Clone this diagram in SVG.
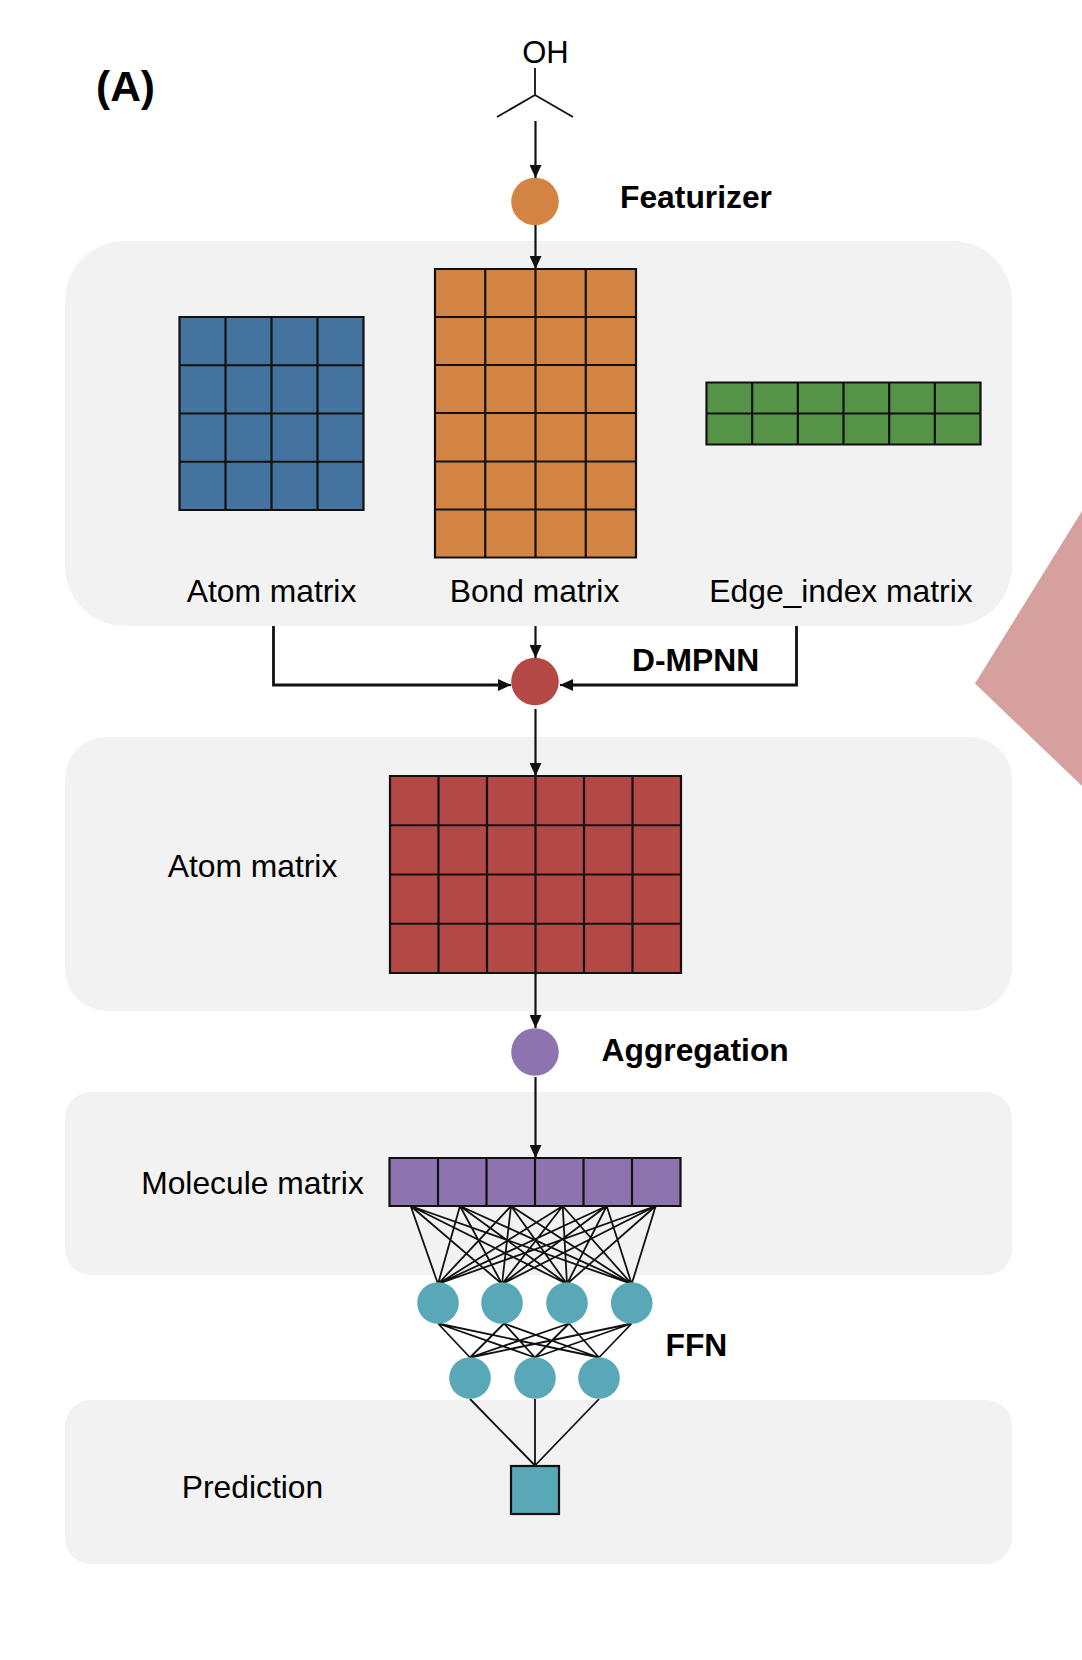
<svg xmlns="http://www.w3.org/2000/svg" width="1082" height="1660" viewBox="0 0 1082 1660">
<defs>
<style>
text{font-family:"Liberation Sans",Arial,sans-serif;font-size:31.8px;fill:#000}
.b{font-weight:bold}
.m{text-anchor:middle}
.panel{fill:#f2f2f2}
.grid{stroke:#111;stroke-width:2.2;fill:none}
.line{stroke:#111;stroke-width:2.2;fill:none}
.heavy{stroke:#111;stroke-width:2.8;fill:none}
.thin{stroke:#111;stroke-width:1.8;fill:none}
.teal{fill:#58a8b7}
</style>
<marker id="arrow" markerUnits="userSpaceOnUse" viewBox="0 0 13 12" refX="13" refY="6" markerWidth="13" markerHeight="12" orient="auto"><path d="M0,0L13,6L0,12Z" fill="#111"/></marker>
</defs>
<rect width="1082" height="1660" fill="#fff"/>
<polygon id="pink-shape" points="1082,511 975,683.5 1082,786" fill="#d5a09e"/>
<g id="panels">
<rect class="panel" x="65" y="241" width="947" height="385" rx="60" ry="60"/>
<rect class="panel" x="65" y="737" width="947" height="274" rx="42" ry="42"/>
<rect class="panel" x="65" y="1092" width="947" height="183" rx="26" ry="26"/>
<rect class="panel" x="65" y="1400" width="947" height="164" rx="26" ry="26"/>
</g>
<g id="label-a"><text class="b" x="96" y="101" style="font-size:42.5px">(A)</text></g>
<g id="molecule">
<text class="m" x="545.500" y="63" style="font-size:31px">OH</text>
<path class="thin" d="M535,68V95M497,117L535,95L573,117"/>
</g>
<g id="featurizer-node"><circle cx="535" cy="201.500" r="23.800" fill="#d38442"/><text class="b" x="620" y="208">Featurizer</text></g>
<g id="atom-grid">
<rect x="179.500" y="317" width="184" height="193" fill="#44739f"/>
<path class="grid" d="M179.500,317H363.500V510H179.500ZM225.500,317V510M271.500,317V510M317.500,317V510M179.500,365.250H363.500M179.500,413.500H363.500M179.500,461.750H363.500"/>
<text class="m" x="271.500" y="602">Atom matrix</text>
</g>
<g id="bond-grid">
<rect x="435" y="269" width="201" height="288.500" fill="#d38442"/>
<path class="grid" d="M435,269H636V557.500H435ZM485.250,269V557.500M535.500,269V557.500M585.750,269V557.500M435,317H636M435,365H636M435,413H636M435,461.500H636M435,509.500H636"/>
<text class="m" x="534.500" y="602">Bond matrix</text>
</g>
<g id="edge-grid">
<rect x="706.500" y="382.500" width="274" height="62" fill="#559347"/>
<path class="grid" d="M706.500,382.500H980.500V444.500H706.500ZM752.170,382.500V444.500M797.830,382.500V444.500M843.500,382.500V444.500M889.170,382.500V444.500M934.830,382.500V444.500M706.500,413.500H980.500"/>
<text class="m" x="841" y="602">Edge_index matrix</text>
</g>
<g id="dmpnn-node"><circle cx="535" cy="681.500" r="23.800" fill="#b34844"/><text class="b" x="632" y="671">D-MPNN</text></g>
<g id="atom-grid-2">
<rect x="390" y="776" width="291" height="197" fill="#b34844"/>
<path class="grid" d="M390,776H681V973H390ZM438.500,776V973M487,776V973M535.500,776V973M584,776V973M632.500,776V973M390,825.250H681M390,874.500H681M390,923.750H681"/>
<text class="m" x="252.500" y="877">Atom matrix</text>
</g>
<g id="aggregation-node"><circle cx="535" cy="1052" r="23.800" fill="#8e74ae"/><text class="b" x="601.500" y="1061">Aggregation</text></g>
<g id="molecule-grid">
<rect x="389.500" y="1158" width="291" height="48" fill="#8e74ae"/>
<path class="grid" d="M389.500,1158H680.500V1206H389.500ZM438,1158V1206M486.500,1158V1206M535,1158V1206M583.500,1158V1206M632,1158V1206"/>
<text class="m" x="252.500" y="1194">Molecule matrix</text>
</g>
<g id="connectors">
<path class="line" marker-end="url(#arrow)" d="M535.500,121V178"/>
<path class="line" marker-end="url(#arrow)" d="M535.500,225V269"/>
<path class="line" marker-end="url(#arrow)" d="M535.500,626V658"/>
<path class="heavy" d="M273.500,626V685H500M796.500,626V685H570"/>
<path class="line" marker-end="url(#arrow)" d="M495,685H511"/>
<path class="line" marker-end="url(#arrow)" d="M575,685H560"/>
<path class="line" marker-end="url(#arrow)" d="M535.500,709V776"/>
<path class="line" marker-end="url(#arrow)" d="M535.500,973V1028"/>
<path class="line" marker-end="url(#arrow)" d="M535.500,1077V1158"/>
<path class="thin" d="M410.700,1206L438,1284M410.700,1206L502,1284M410.700,1206L567,1284M410.700,1206L631.700,1284M460,1206L438,1284M460,1206L502,1284M460,1206L567,1284M460,1206L631.700,1284M511,1206L438,1284M511,1206L502,1284M511,1206L567,1284M511,1206L631.700,1284M562.700,1206L438,1284M562.700,1206L502,1284M562.700,1206L567,1284M562.700,1206L631.700,1284M606.700,1206L438,1284M606.700,1206L502,1284M606.700,1206L567,1284M606.700,1206L631.700,1284M655.700,1206L438,1284M655.700,1206L502,1284M655.700,1206L567,1284M655.700,1206L631.700,1284"/>
<path class="thin" d="M438,1323.500L470,1357.500M438,1323.500L535,1357.500M438,1323.500L599,1357.500M504,1323.500L470,1357.500M504,1323.500L535,1357.500M504,1323.500L599,1357.500M569,1323.500L470,1357.500M569,1323.500L535,1357.500M569,1323.500L599,1357.500M631.700,1323.500L470,1357.500M631.700,1323.500L535,1357.500M631.700,1323.500L599,1357.500"/>
<path class="thin" d="M470,1399L535,1465.500M535,1399V1465.500M599,1399L535,1465.500"/>
</g>
<g id="ffn-layer-1">
<circle class="teal" cx="438" cy="1303" r="20.800"/>
<circle class="teal" cx="502" cy="1303" r="20.800"/>
<circle class="teal" cx="567" cy="1303" r="20.800"/>
<circle class="teal" cx="631.700" cy="1303" r="20.800"/>
</g>
<g id="ffn-layer-2">
<circle class="teal" cx="470" cy="1378" r="20.800"/>
<circle class="teal" cx="535" cy="1378" r="20.800"/>
<circle class="teal" cx="599" cy="1378" r="20.800"/>
</g>
<g id="ffn-label"><text class="b" x="665.500" y="1356">FFN</text></g>
<g id="prediction">
<rect class="teal" x="511" y="1466" width="48" height="48" stroke="#111" stroke-width="2.2"/>
<text class="m" x="252.500" y="1498">Prediction</text>
</g>
</svg>
